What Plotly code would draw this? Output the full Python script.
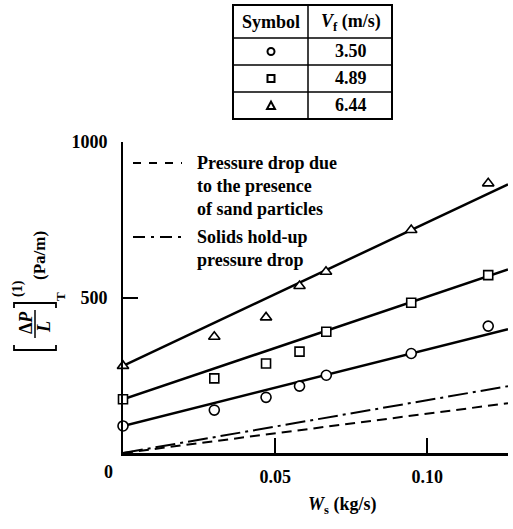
import plotly.graph_objects as go

# ---- data ----
ws_350 = [0.0, 0.030, 0.047, 0.058, 0.0668, 0.0947, 0.120]
dp_350 = [87, 138, 179, 215, 250, 320, 408]
ws_489 = [0.0, 0.030, 0.047, 0.058, 0.0668, 0.0947, 0.120]
dp_489 = [173, 240, 288, 326, 390, 483, 572]
ws_644 = [0.0, 0.030, 0.047, 0.058, 0.0667, 0.0947, 0.120]
dp_644 = [280, 374, 436, 537, 583, 717, 867]

fit_x = [0.0, 0.1265]
fit_350 = [87, 398]
fit_489 = [173, 590]
fit_644 = [280, 864]
sand_y = [0, 160]
holdup_y = [0, 215]

table_speeds = ["3.50", "4.89", "6.44"]
x_tickvals = [0.05, 0.10]
x_ticktext = ["0.05", "0.10"]
y_tickvals = [500, 1000]
y_ticktext = ["500", "1000"]

W, H = 513, 529
L, R, T, B = 123, 5, 142, 76
PW, PH = W - L - R, H - T - B


def px(X):
    return (X - L) / PW


def py(Y):
    return (H - B - Y) / PH


FONT = "Liberation Serif"
FS = 18
BLK = "black"

fig = go.Figure()

for y in (fit_350, fit_489, fit_644):
    fig.add_trace(go.Scatter(x=fit_x, y=y, mode="lines",
                             line=dict(color=BLK, width=2.5), showlegend=False))
fig.add_trace(go.Scatter(x=fit_x, y=sand_y, mode="lines",
                         line=dict(color=BLK, width=2, dash="10px,6px"), showlegend=False))
fig.add_trace(go.Scatter(x=fit_x, y=holdup_y, mode="lines",
                         line=dict(color=BLK, width=2, dash="20px,5px,3px,5px"), showlegend=False))

for xs, ys, sym, sz in ((ws_350, dp_350, "circle", 10),
                        (ws_489, dp_489, "square", 9),
                        (ws_644, dp_644, "triangle-up", 10)):
    fig.add_trace(go.Scatter(x=xs, y=ys, mode="markers", cliponaxis=False,
                             marker=dict(symbol=sym, size=sz, color="white",
                                         line=dict(color=BLK, width=1.6)),
                             showlegend=False))

shapes = []
ann = []

def text(X, Y, s, size=FS, xanchor="center", angle=0):
    ann.append(dict(x=px(X), y=py(Y), xref="paper", yref="paper", text=s,
                    showarrow=False, xanchor=xanchor, yanchor="middle",
                    textangle=angle,
                    font=dict(family=FONT, size=size, color=BLK, weight="bold")))

def line(X0, Y0, X1, Y1, w=1.5, dash=None):
    d = dict(type="line", xref="paper", yref="paper", x0=px(X0), y0=py(Y0),
             x1=px(X1), y1=py(Y1), line=dict(color=BLK, width=w))
    if dash:
        d["line"]["dash"] = dash
    shapes.append(d)

# ---- table ----
tl, tm, tr = 233, 308, 392
rows = [5, 38, 65, 92, 119]
shapes.append(dict(type="rect", xref="paper", yref="paper", x0=px(tl), x1=px(tr),
                   y0=py(rows[0]), y1=py(rows[-1]), line=dict(color=BLK, width=2)))
for r in rows[1:-1]:
    line(tl, r, tr, r, 1.5)
line(tm, rows[0], tm, rows[-1], 1.5)
text(271, 22, "Symbol")
text(351, 22, "<i>V</i><sub>f</sub> (m/s)")
for i, v in enumerate(table_speeds):
    cy = (rows[i + 1] + rows[i + 2]) / 2
    text(351, cy, v)
    ax, ay = px(271), py(cy)
    common = dict(xref="paper", yref="paper", xsizemode="pixel", ysizemode="pixel",
                  xanchor=ax, yanchor=ay, line=dict(color=BLK, width=2))
    if i == 0:
        shapes.append(dict(type="circle", x0=-3.5, x1=3.5, y0=-3.5, y1=3.5, **common))
    elif i == 1:
        shapes.append(dict(type="rect", x0=-3.5, x1=3.5, y0=-3.5, y1=3.5, **common))
    else:
        shapes.append(dict(type="path", path="M -4,-3.5 L 4,-3.5 L 0,4 Z", **common))

# ---- in-plot legend ----
line(133, 163, 182, 163, 2, "8px,8px")
line(133, 237, 182, 237, 2, "12px,6px,3px,6px")
text(195, 163, "Pressure drop due", FS, "left")
text(195, 186, "to the presence", FS, "left")
text(195, 209, "of sand particles", FS, "left")
text(195, 237, "Solids hold-up", FS, "left")
text(195, 260, "pressure drop", FS, "left")

# ---- origin label and x title ----
text(108, 472, "0")
text(342, 505, "<i>W</i><sub>s</sub> (kg/s)")

# ---- y-axis title pieces ----
text(26, 323, "Δ<i>P</i>", FS, angle=-90)
text(44, 327, "<i>L</i>", FS, angle=-90)
line(35, 310, 35, 338, 1.5)
text(18, 289, "(1)", 14, angle=-90)
text(60, 297, "T", 13, angle=-90)
text(39, 256, "(Pa/m)", 17, angle=-90)
# brackets
shapes.append(dict(type="path", xref="paper", yref="paper",
                   path=f"M {px(14)},{py(308)} L {px(14)},{py(303)} L {px(56)},{py(303)} L {px(56)},{py(308)}",
                   line=dict(color=BLK, width=1.8)))
shapes.append(dict(type="path", xref="paper", yref="paper",
                   path=f"M {px(14)},{py(345)} L {px(14)},{py(350)} L {px(56)},{py(350)} L {px(56)},{py(345)}",
                   line=dict(color=BLK, width=1.8)))

fig.update_layout(
    width=W, height=H, margin=dict(l=L, r=R, t=T, b=B),
    paper_bgcolor="white", plot_bgcolor="white",
    shapes=shapes, annotations=ann, showlegend=False,
    font=dict(family=FONT, size=FS, color=BLK, weight="bold"),
)
fig.update_xaxes(range=[0, 0.1265], showgrid=False, zeroline=False,
                 showline=True, linecolor=BLK, linewidth=2.5,
                 ticks="inside", ticklen=15, tickwidth=1.5, tickcolor=BLK,
                 tickvals=x_tickvals, ticktext=x_ticktext, ticklabelstandoff=6,
                 tickfont=dict(family=FONT, size=FS, color=BLK, weight="bold"))
fig.update_yaxes(range=[0, 1000], showgrid=False, zeroline=False,
                 showline=True, linecolor=BLK, linewidth=2,
                 ticks="inside", ticklen=15, tickwidth=1.5, tickcolor=BLK,
                 tickvals=y_tickvals, ticktext=y_ticktext, ticklabelstandoff=10,
                 tickfont=dict(family=FONT, size=FS, color=BLK, weight="bold"))

fig.write_html("out.html")
